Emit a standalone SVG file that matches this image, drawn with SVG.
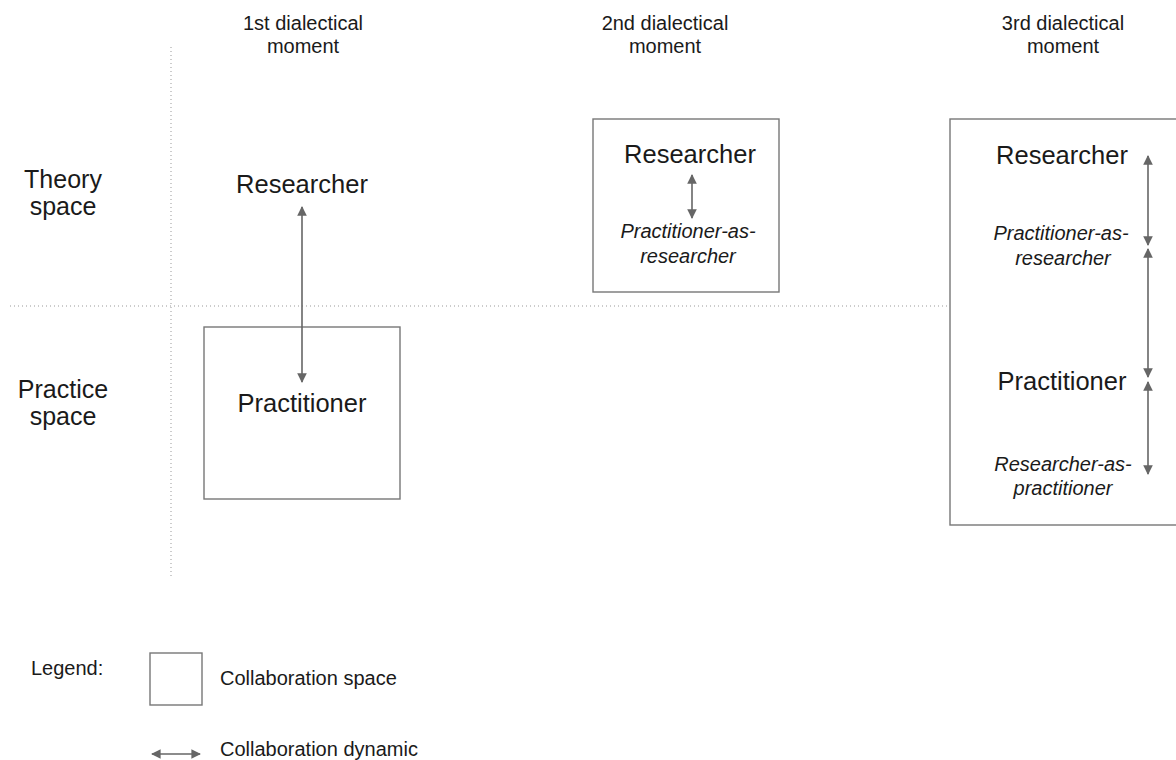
<svg xmlns="http://www.w3.org/2000/svg" width="1176" height="760" viewBox="0 0 1176 760">
<style>
text{font-family:"Liberation Sans",Arial,sans-serif;fill:#1a1a1a}
.hdr{font-size:20px;text-anchor:middle}
.side{font-size:25px;text-anchor:middle}
.role{font-size:25.5px;text-anchor:middle}
.it{font-size:20px;font-style:italic;text-anchor:middle}
.leg{font-size:20px}
.box{fill:none;stroke:#777;stroke-width:1.4}
.grid{stroke:#999;stroke-width:1;stroke-dasharray:1 3}
.arr{stroke:#666;stroke-width:1.6;fill:none;marker-start:url(#ah);marker-end:url(#ah)}
</style>
<defs>
<marker id="ah" viewBox="0 0 10 10" refX="9" refY="5" markerWidth="6" markerHeight="6" orient="auto-start-reverse" markerUnits="strokeWidth">
<path d="M0,0 L10,5 L0,10 z" fill="#666"/>
</marker>
</defs>
<rect width="1176" height="760" fill="#fff"/>
<g id="grid">
<line class="grid" x1="171" y1="47" x2="171" y2="578"/>
<line class="grid" x1="10" y1="306" x2="950" y2="306"/>
</g>
<g id="headers">
<text class="hdr" x="303" y="30">1st dialectical</text>
<text class="hdr" x="303" y="53">moment</text>
<text class="hdr" x="665" y="30">2nd dialectical</text>
<text class="hdr" x="665" y="53">moment</text>
<text class="hdr" x="1063" y="30">3rd dialectical</text>
<text class="hdr" x="1063" y="53">moment</text>
</g>
<g id="rows">
<text class="side" x="63" y="188">Theory</text>
<text class="side" x="63" y="215">space</text>
<text class="side" x="63" y="398">Practice</text>
<text class="side" x="63" y="425">space</text>
</g>
<g id="moment1">
<text class="role" x="302" y="193">Researcher</text>
<rect class="box" x="204" y="327" width="196" height="172"/>
<text class="role" x="302" y="412">Practitioner</text>
</g>
<g id="moment2">
<rect class="box" x="593" y="119" width="186" height="173"/>
<text class="role" x="690" y="163">Researcher</text>
<text class="it" x="688" y="238">Practitioner-as-</text>
<text class="it" x="688" y="263">researcher</text>
</g>
<g id="moment3">
<rect class="box" x="950" y="119" width="240" height="406"/>
<text class="role" x="1062" y="164">Researcher</text>
<text class="it" x="1061" y="240">Practitioner-as-</text>
<text class="it" x="1063" y="265">researcher</text>
<text class="role" x="1062" y="390">Practitioner</text>
<text class="it" x="1063" y="471">Researcher-as-</text>
<text class="it" x="1063" y="495">practitioner</text>
</g>
<g id="connectors">
<line class="arr" x1="302" y1="207" x2="302" y2="382"/>
<line class="arr" x1="692" y1="175" x2="692" y2="218"/>
<line class="arr" x1="1148" y1="156" x2="1148" y2="245"/>
<line class="arr" x1="1148" y1="249" x2="1148" y2="377"/>
<line class="arr" x1="1148" y1="382" x2="1148" y2="474"/>
</g>
<g id="legend">
<text class="leg" x="31" y="675">Legend:</text>
<rect class="box" x="150" y="653" width="52" height="52"/>
<text class="leg" x="220" y="685">Collaboration space</text>
<line class="arr" x1="152" y1="754" x2="200" y2="754"/>
<text class="leg" x="220" y="756">Collaboration dynamic</text>
</g>
</svg>
